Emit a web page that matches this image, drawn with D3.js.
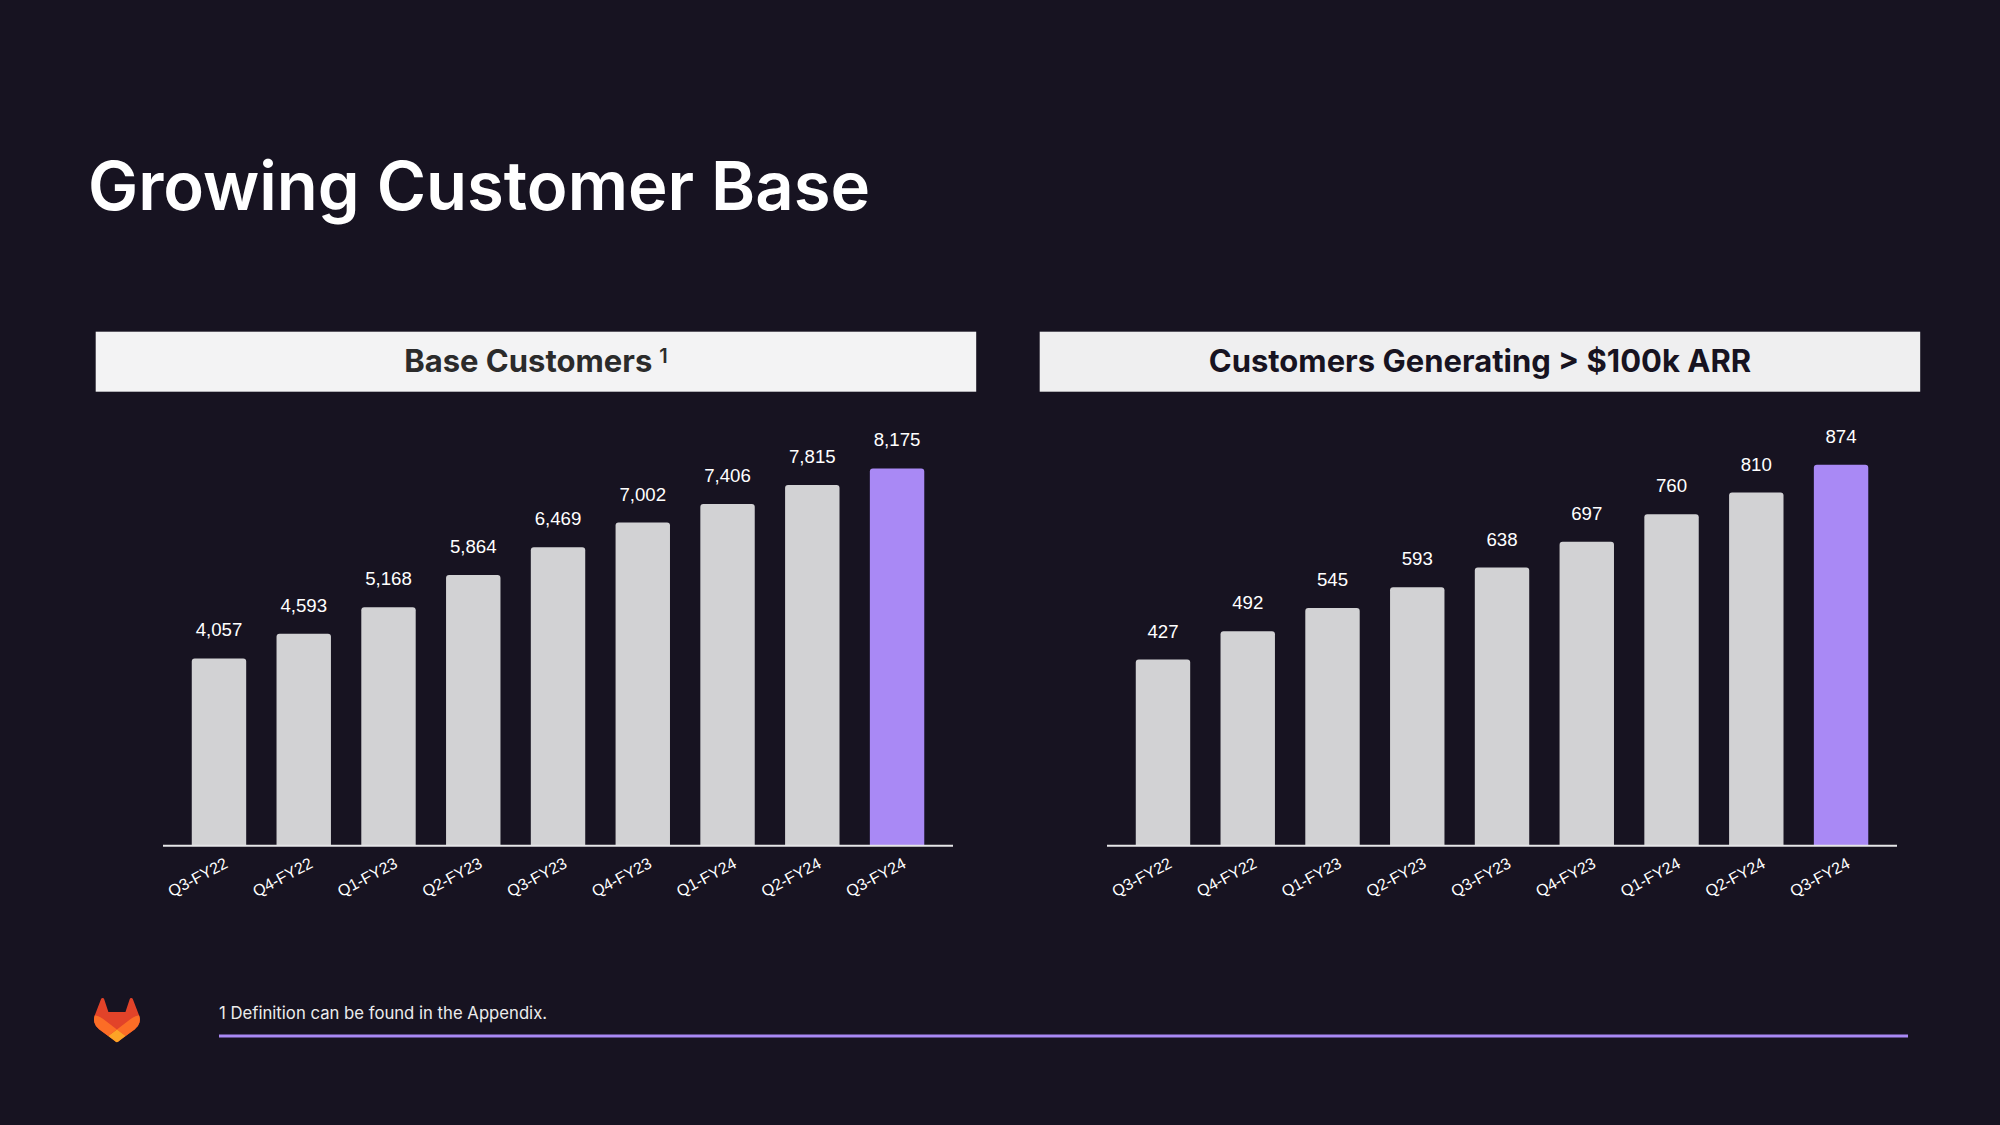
<!DOCTYPE html>
<html>
<head>
<meta charset="utf-8">
<script src="https://cdn.jsdelivr.net/npm/d3@7"></script>
<style>
  html, body { margin: 0; padding: 0; background: #171321; }
  svg { display: block; }
</style>
</head>
<body>
<svg id="chart" width="2000" height="1125"></svg>
<script>
// ---- Data ----
const categories = ["Q3-FY22","Q4-FY22","Q1-FY23","Q2-FY23","Q3-FY23","Q4-FY23","Q1-FY24","Q2-FY24","Q3-FY24"];
const baseCustomers = [4057, 4593, 5168, 5864, 6469, 7002, 7406, 7815, 8175];
const arrCustomers = [427, 492, 545, 593, 638, 697, 760, 810, 874];
const panelTitles = ["Base Customers", "Customers Generating > $100k ARR"];
const pageTitle = "Growing Customer Base";
const footnote = "1 Definition can be found in the Appendix.";

// ---- Styles ----
const BG = "#171321";
const BAR = "#d2d2d4";
const HIGHLIGHT = "#a989f5";
const svg = d3.select("#chart");
svg.append("rect").attr("width", 2000).attr("height", 1125).attr("fill", BG);

// Title
svg.append("text")
  .attr("x", 88).attr("y", 210)
  .attr("font-family", "Inter, 'Noto Sans', sans-serif")
  .attr("font-weight", 600)
  .attr("font-size", 67)
  .attr("fill", "#ffffff")
  .text(pageTitle);

function topRoundedBar(x, y, w, h, r) {
  r = Math.min(r, h / 2, w / 2);
  return `M${x},${y + h}V${y + r}Q${x},${y} ${x + r},${y}H${x + w - r}Q${x + w},${y} ${x + w},${y + r}V${y + h}Z`;
}

function drawPanel(offsetX, values, domainMax, rangeTop, title, headerFill, headerText, superscript) {
  const g = svg.append("g").attr("transform", `translate(${offsetX},0)`);
  const baseY = 845.7;

  // header box
  g.append("rect")
    .attr("x", 95.7).attr("y", 331.7)
    .attr("width", 880.5).attr("height", 60)
    .attr("fill", headerFill);
  const ht = g.append("text")
    .attr("x", 95.7 + 880.5 / 2).attr("y", 372)
    .attr("text-anchor", "middle")
    .attr("font-family", "Inter, 'Noto Sans', sans-serif")
    .attr("font-weight", 700)
    .attr("font-size", 31)
    .attr("fill", headerText);
  ht.append("tspan").text(title);
  if (superscript) {
    ht.append("tspan")
      .attr("dx", 7).attr("dy", -9)
      .attr("font-size", 20)
      .attr("font-weight", 600)
      .text(superscript);
  }

  const x = d3.scaleBand()
    .domain(categories)
    .range([176.6, 176.6 + 9 * 84.76])
    .paddingInner(0.358)
    .paddingOuter(0.179);
  const y = d3.scaleLinear()
    .domain([0, domainMax])
    .range([baseY, rangeTop]);

  const n = categories.length;
  g.selectAll("path.bar")
    .data(values)
    .join("path")
    .attr("class", "bar")
    .attr("d", (d, i) => topRoundedBar(x(categories[i]), y(d), x.bandwidth(), y(0) - y(d), 3))
    .attr("fill", (d, i) => i === n - 1 ? HIGHLIGHT : BAR);

  g.selectAll("text.val")
    .data(values)
    .join("text")
    .attr("class", "val")
    .attr("x", (d, i) => x(categories[i]) + x.bandwidth() / 2)
    .attr("y", d => y(d) - 22)
    .attr("text-anchor", "middle")
    .attr("font-family", "'Liberation Sans', Arial, sans-serif")
    .attr("font-size", 18.67)
    .attr("fill", "#ffffff")
    .text(d => d3.format(",")(d));

  // axis line
  g.append("line")
    .attr("x1", 163).attr("x2", 953)
    .attr("y1", baseY).attr("y2", baseY)
    .attr("stroke", "#e6e6e8").attr("stroke-width", 2);

  const axis = g.append("g")
    .attr("transform", `translate(0,${baseY})`)
    .call(d3.axisBottom(x).tickSize(0));
  axis.select(".domain").remove();
  axis.selectAll("text")
    .attr("x", 0).attr("y", 0).attr("dy", 0)
    .attr("transform", "translate(10,21) rotate(-28)")
    .attr("text-anchor", "end")
    .attr("font-family", "'Liberation Sans', Arial, sans-serif")
    .attr("font-size", 16)
    .attr("fill", "#ffffff");
}

drawPanel(0, baseCustomers, 10000, 845.7 - 461.5, panelTitles[0], "#f3f3f4", "#2b2b2b", "1");
drawPanel(944, arrCustomers, 1000, 845.7 - 436, panelTitles[1], "#efeff0", "#171321", null);

// Footnote
svg.append("text")
  .attr("x", 219).attr("y", 1019)
  .attr("font-family", "Inter, 'Noto Sans', sans-serif")
  .attr("font-size", 16.7)
  .attr("fill", "#ececec")
  .text(footnote);
svg.append("line")
  .attr("x1", 219).attr("x2", 1908)
  .attr("y1", 1036).attr("y2", 1036)
  .attr("stroke", "#a989f5").attr("stroke-width", 3);

// Logo (tanuki)
const logo = svg.append("g").attr("transform", "translate(94,998) scale(1.84)");
logo.append("path").attr("fill", "#E24329")
  .attr("d", "m24.507 9.5-.034-.09L21.082.562a.896.896 0 0 0-1.694.091l-2.29 7.01H7.825L5.535.653a.898.898 0 0 0-1.694-.09L.451 9.411.416 9.5a6.297 6.297 0 0 0 2.09 7.278l.012.01.03.022 5.16 3.867 2.56 1.935 1.554 1.176a1.051 1.051 0 0 0 1.268 0l1.555-1.176 2.56-1.935 5.197-3.89.014-.01A6.297 6.297 0 0 0 24.507 9.5Z");
logo.append("path").attr("fill", "#FC6D26")
  .attr("d", "m24.507 9.5-.034-.09a11.44 11.44 0 0 0-4.56 2.051l-7.447 5.632 4.742 3.584 5.197-3.89.014-.01A6.297 6.297 0 0 0 24.507 9.5Z");
logo.append("path").attr("fill", "#FCA326")
  .attr("d", "m7.707 20.677 2.56 1.935 1.555 1.176a1.051 1.051 0 0 0 1.268 0l1.555-1.176 2.56-1.935-4.743-3.584-4.755 3.584Z");
logo.append("path").attr("fill", "#FC6D26")
  .attr("d", "M5.01 11.461a11.43 11.43 0 0 0-4.56-2.05L.416 9.5a6.297 6.297 0 0 0 2.09 7.278l.012.01.03.022 5.16 3.867 4.745-3.584-7.444-5.632Z");
</script>
</body>
</html>
